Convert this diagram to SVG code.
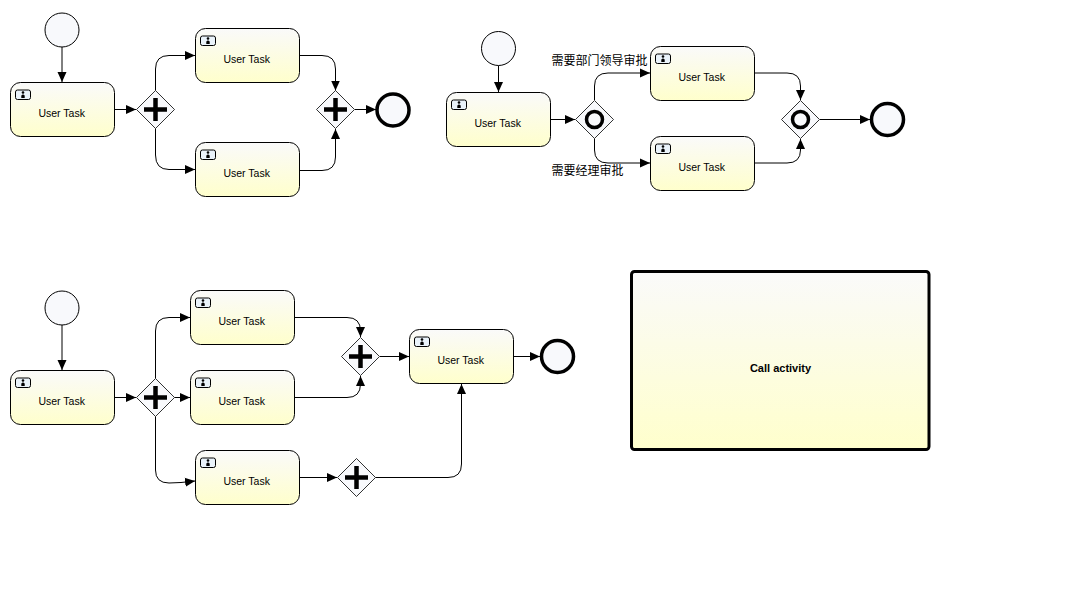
<svg xmlns="http://www.w3.org/2000/svg" xmlns:xlink="http://www.w3.org/1999/xlink" width="1092" height="589" viewBox="0 0 1092 589">
<style>
text{font-family:"Liberation Sans",Arial,sans-serif;fill:#000}
.tl{font-size:10.5px;text-anchor:middle}
.cn{font-family:"Liberation Sans","Noto Sans CJK SC",sans-serif;font-size:12px}
.b{fill:url(#g);stroke:#000;stroke-width:1}
.ev{fill:#f8f9fc;stroke:#000;stroke-width:1}
.end{fill:#f8f9fc;stroke:#000;stroke-width:3.5}
.gw{fill:#f8f9fc;stroke:#000;stroke-width:.8}
.pl{fill:none;stroke:#000;stroke-width:4.500}
.ci{fill:none;stroke:#000;stroke-width:3.500}
#connectors path{fill:none;stroke:#000;stroke-width:1;marker-end:url(#a)}
</style>
<defs>
<linearGradient id="g" x1="0" y1="0" x2="0" y2="1"><stop offset="0" stop-color="#fafafa"/><stop offset="1" stop-color="#ffffcc"/></linearGradient>
<marker id="a" markerUnits="userSpaceOnUse" markerWidth="12" markerHeight="12" refX="10" refY="6" orient="auto"><path d="M0 1.500L10 6L0 10.500z" fill="#000"/></marker>
<g id="task">
<rect class="b" width="104" height="54" rx="10"/>
<rect x="5" y="7.500" width="15" height="9.500" rx="2" fill="#eaf3fa" stroke="#000"/>
<circle cx="12.500" cy="10" r="1.300" fill="#000"/><path d="M10.800 15.500V13L12.500 11.800L14.200 13V15.500z" fill="#000"/>
<text class="tl" x="51.200" y="34.500">User Task</text>
</g>
<g id="pgw"><path class="gw" d="M0-19L19 0L0 19L-19 0z"/><path class="pl" d="M-11.500 0H11.500M0-11.500V11.500"/></g>
<g id="ogw"><path class="gw" d="M0-19L19 0L0 19L-19 0z"/><circle class="ci" r="8"/></g>
</defs>
<rect width="1092" height="589" fill="#fff"/>
<g id="connectors">
<path d="M62 47V82"/>
<path d="M115 109.500H136"/>
<path d="M155.500 90.500V69Q155.500 55.500 169 55.500H195"/>
<path d="M155.500 128.500V155Q155.500 169.500 169 169.500H195"/>
<path d="M300 55.500H322Q335.500 55.500 335.500 69V90.500"/>
<path d="M300 170.500H322Q335.500 170.500 335.500 157V129"/>
<path d="M355 109.500H376"/>
<path d="M498.500 65.500V92"/>
<path d="M551 119.500H575"/>
<path d="M594.500 100V86Q594.500 73 608 73H650"/>
<path d="M594.500 138.500V150Q594.500 163 608 163H650"/>
<path d="M755 73H787Q800.500 73 800.500 86V100"/>
<path d="M755 163H787Q800.500 163 800.500 150V139"/>
<path d="M820 119.500H870"/>
<path d="M62 325V370"/>
<path d="M115 397.500H136"/>
<path d="M155.500 378.500V331Q155.500 317.500 169 317.500H190"/>
<path d="M174.500 397.500H190"/>
<path d="M155.500 416.500V470Q155.500 483 169 483Q180 483 195 481"/>
<path d="M295 317.500H347Q360.500 317.500 360.500 331V337"/>
<path d="M295 397.500H347Q360.500 397.500 360.500 384V376"/>
<path d="M380 356.500H409"/>
<path d="M300 477.500H337"/>
<path d="M375.500 477.500H448Q461.500 477.500 461.500 464V384"/>
<path d="M514 356.500H540"/>
</g>
<g id="start1"><circle class="ev" cx="62" cy="30" r="17"/></g>
<g id="task1"><use href="#task" x="10.500" y="82.500"/></g>
<g id="gw1"><use href="#pgw" x="155.500" y="109.500"/></g>
<g id="task2"><use href="#task" x="195.500" y="28.500"/></g>
<g id="task3"><use href="#task" x="195.500" y="142.500"/></g>
<g id="gw2"><use href="#pgw" x="335.500" y="109.500"/></g>
<g id="end1"><circle class="end" cx="393" cy="110" r="16"/></g>
<g id="start2"><circle class="ev" cx="498.500" cy="48.500" r="17"/></g>
<g id="task4"><use href="#task" x="446.500" y="92.500"/></g>
<g id="gw3"><use href="#ogw" x="594.500" y="119.500"/></g>
<g id="task5"><use href="#task" x="650.500" y="46.500"/></g>
<g id="task6"><use href="#task" x="650.500" y="136.500"/></g>
<g id="gw4"><use href="#ogw" x="800.500" y="119.500"/></g>
<g id="end2"><circle class="end" cx="887.500" cy="119.500" r="16"/></g>
<text class="cn" x="551.500" y="64.500">需要部门领导审批</text>
<text class="cn" x="551.500" y="174.500">需要经理审批</text>
<g id="start3"><circle class="ev" cx="62" cy="308" r="17"/></g>
<g id="task7"><use href="#task" x="10.500" y="370.500"/></g>
<g id="gw5"><use href="#pgw" x="155.500" y="397.500"/></g>
<g id="task8"><use href="#task" x="190.500" y="290.500"/></g>
<g id="task9"><use href="#task" x="190.500" y="370.500"/></g>
<g id="task10"><use href="#task" x="195.500" y="450.500"/></g>
<g id="gw6"><use href="#pgw" x="360.500" y="356.500"/></g>
<g id="gw7"><use href="#pgw" x="356.500" y="477.500"/></g>
<g id="task11"><use href="#task" x="409.500" y="329.500"/></g>
<g id="end3"><circle class="end" cx="557.500" cy="356.500" r="16"/></g>
<g id="call"><rect x="631.500" y="271.500" width="297.500" height="178" rx="3" fill="url(#g)" stroke="#000" stroke-width="3"/><text x="780.500" y="372" font-size="11" font-weight="bold" text-anchor="middle">Call activity</text></g>
</svg>
